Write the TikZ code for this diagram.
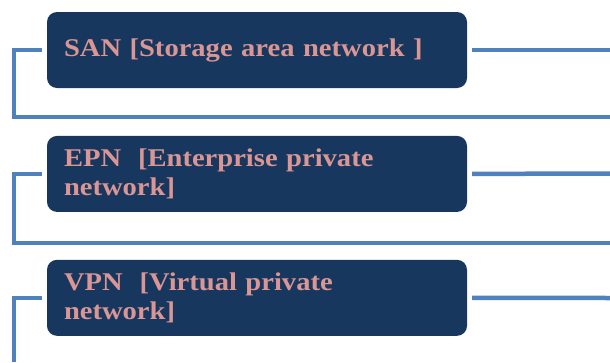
\documentclass[tikz,border=0pt]{standalone}
\usepackage{fontspec}
\setmainfont{Liberation Serif}
\newfontfamily\boxfont[FakeStretch=1.12]{Liberation Serif}
\usetikzlibrary{positioning}
\definecolor{boxblue}{HTML}{17375E}
\definecolor{lineblue}{HTML}{4F81BD}
\definecolor{salmon}{HTML}{D99694}
\begin{document}
\begin{tikzpicture}[x=1pt, y=-1pt, node distance={47.5pt},
  main/.style = {fill=boxblue, rounded corners=10pt, minimum width=420pt, minimum height=76pt,
    text width=386pt, inner xsep=17pt, align=left, text=salmon,
    font=\boxfont\bfseries\fontsize{25.5}{29}\selectfont},
  link/.style = {draw=lineblue, line width=4.5pt}]
\useasboundingbox (0,0) rectangle (610,362);
\node[main] (san) at (257,50) {SAN [Storage area network ]};
\node[main] (epn) [below=of san] {EPN\ \ [Enterprise private\\network]};
\node[main] (vpn) [below=of epn] {VPN\ \ [Virtual private\\network]};
\coordinate (sanbase) at (610,117);
\coordinate (epnbase) at (610,243);
\coordinate (vpnbase) at (14,362);
\coordinate (sanout) at (610,50);
\coordinate (epnout) at (610,173.5);
\coordinate (vpnout) at (610,298);
\draw[link] ([xshift=-5pt]san.west) -| (14,117) -- (sanbase);
\draw[link] ([xshift=-5pt]epn.west) -| (14,243) -- (epnbase);
\draw[link] ([xshift=-5pt]vpn.west) -| (vpnbase);
\draw[link] ([xshift=5pt]san.east) -- (sanout);
\draw[link] ([xshift=5pt]epn.east) -- (epnout);
\draw[link] ([xshift=5pt]vpn.east) -- (vpnout);
\end{tikzpicture}
\end{document}
